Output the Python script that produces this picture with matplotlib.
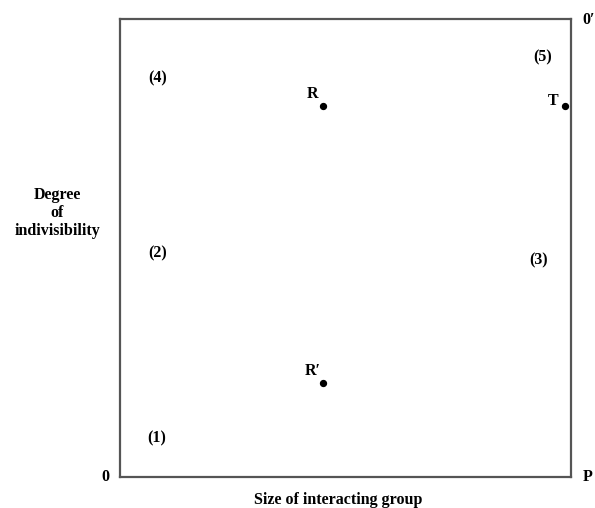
import matplotlib
matplotlib.use("Agg")
import matplotlib.pyplot as plt

# Data
point_names = ["R", "T", "R\u2032"]
point_x = [0.45, 0.987, 0.45]
point_y = [0.81, 0.81, 0.205]

region_labels = ["(1)", "(2)", "(3)", "(4)", "(5)"]
region_x = [0.082, 0.084, 0.927, 0.084, 0.938]
region_y = [0.085, 0.489, 0.474, 0.871, 0.917]

plt.rcParams['font.family'] = ['Liberation Serif', 'DejaVu Serif']
FS = 11.5

fig = plt.figure(figsize=(5.95, 5.08), dpi=100)
ax = fig.add_axes([120/595, 1-477/508, 451/595, 458/508])
ax.set_xlim(0, 1)
ax.set_ylim(0, 1)
ax.set_xticks([])
ax.set_yticks([])
for s in ax.spines.values():
    s.set_color('#555555')
    s.set_linewidth(1.6)

ax.scatter(point_x, point_y, s=18, color='black', zorder=3)
label_offsets = [(-10, 12), (-12, 5), (-10, 12)]
for name, x, y, off in zip(point_names, point_x, point_y, label_offsets):
    ax.annotate(name, (x, y), xytext=off, textcoords='offset pixels',
                ha='center', va='center', fontsize=FS, fontweight='bold')

for lab, x, y in zip(region_labels, region_x, region_y):
    ax.text(x, y, lab, ha='center', va='center', fontsize=FS, fontweight='bold')

# corner labels
fig.text(105/595, 1-477/508, "0", ha='center', va='center', fontsize=FS, fontweight='bold')
fig.text(588/595, 1-477/508, "P", ha='center', va='center', fontsize=FS, fontweight='bold')
fig.text(589/595, 1-20/508, "0\u2032", ha='center', va='center', fontsize=FS, fontweight='bold')

fig.text(57/595, 1-213/508, "Degree\nof\nindivisibility", ha='center', va='center',
         fontsize=FS, fontweight='bold', linespacing=1.2)
fig.text(338/595, 1-500/508, "Size of interacting group", ha='center', va='center',
         fontsize=FS, fontweight='bold')

fig.savefig("out.png", dpi=100)
